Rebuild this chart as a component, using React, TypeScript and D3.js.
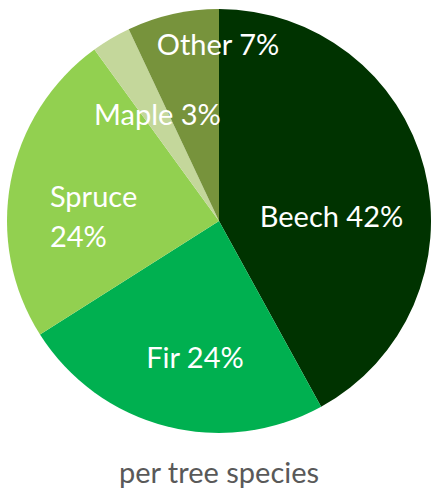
import React from "react";
import * as d3 from "d3";

const species = ["Beech", "Fir", "Spruce", "Maple", "Other"];
const shares = [42, 24, 24, 3, 7];
const colors = ["#003300", "#00b050", "#92d050", "#c4d79b", "#77933c"];
const labelLines = [["Beech 42%"], ["Fir 24%"], ["Spruce", "24%"], ["Maple 3%"], ["Other 7%"]];
const title = "per tree species";

// layout (not data)
const W = 431, H = 492;
const cx = 219, cy = 221, R = 212;
const labelNudge: [number, number][] = [[-10.7, 37.6], [7.6, 23.8], [-44.1, 9.8], [3.2, 13.5], [26.7, -41.9]];
const labelAnchor = ["middle", "middle", "start", "middle", "middle"];
const font = "Lato, 'Open Sans', sans-serif";

export default function App() {
  const data = species.map((s, i) => ({ s, v: shares[i], i }));
  const pie = d3.pie<any>().value((d) => d.v).sort(null);
  const arcs = pie(data);
  const arc = d3.arc<any>().innerRadius(0).outerRadius(R);
  const labelArc = d3.arc<any>().innerRadius(R * 0.6).outerRadius(R * 0.6);
  return (
    <svg width={W} height={H} style={{ position: "absolute", left: 0, top: 0 }}>
      <rect width={W} height={H} fill="#ffffff" />
      <g transform={`translate(${cx},${cy})`}>
        {arcs.map((a, i) => (
          <path key={i} d={arc(a) as string} fill={colors[i]} />
        ))}
        {arcs.map((a, i) => {
          const [x, y] = labelArc.centroid(a);
          const lx = x + labelNudge[i][0];
          const ly = y + labelNudge[i][1];
          return (
            <text key={"t" + i} x={lx} y={ly} fill="#ffffff" fontFamily={font} fontSize={29} textAnchor={labelAnchor[i] as any}>
              {labelLines[i].map((l, j) => (
                <tspan key={j} x={lx} dy={j === 0 ? 0 : 40}>{l}</tspan>
              ))}
            </text>
          );
        })}
      </g>
      <text x={cx} y={483} fill="#595959" fontFamily={font} fontSize={29} textAnchor="middle">{title}</text>
    </svg>
  );
}
